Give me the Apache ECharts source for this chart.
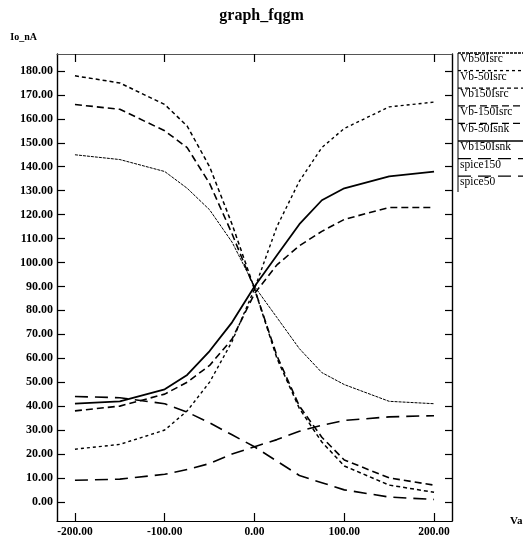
<!DOCTYPE html>
<html>
<head>
<meta charset="utf-8">
<script src="https://cdn.jsdelivr.net/npm/echarts@6/dist/echarts.min.js"></script>
<style>
html,body{margin:0;padding:0;background:#fff;}
#c{width:523px;height:541px;}
</style>
</head>
<body>
<div id="c"></div>
<script>
const xValues = [-200, -150, -100, -75, -50, -25, 0, 25, 50, 75, 100, 150, 200];
const seriesNames = ['Vb50Isrc', 'Vb-50Isrc', 'Vb150Isrc', 'Vb-150Isrc', 'Vb-50Isnk', 'Vb150Isnk', 'spice150', 'spice50'];
const vb50Isrc   = [145, 143, 138, 131, 122, 108.5, 90, 77, 64, 54, 49, 42, 41];
const vbm50Isrc  = [22, 24, 30, 38, 50, 67, 89, 115, 134, 148, 156, 165, 167];
const vb150Isrc  = [178, 175, 166, 157, 140, 116, 89, 60, 39, 25, 15, 7, 4];
const vbm150Isrc = [166, 164, 155, 148, 133, 112, 89, 61, 40, 27, 17.5, 10, 7];
const vbm50Isnk  = [38, 40, 45, 50, 57, 68, 87, 99, 107, 113, 118, 123, 123];
const vb150Isnk  = [41, 42, 47, 53, 63, 75, 90, 103, 116, 126, 131, 136, 138];
const spice150   = [44, 43.5, 41, 37.5, 33, 28, 23, 17, 11, 8, 5, 2, 1];
const spice50    = [9, 9.5, 11.5, 13.5, 16, 20, 23, 26, 29.5, 32, 34, 35.5, 36];
const yTicks = [0, 10, 20, 30, 40, 50, 60, 70, 80, 90, 100, 110, 120, 130, 140, 150, 160, 170, 180];
const xTicks = [-200, -100, 0, 100, 200];

const seriesValues = [vb50Isrc, vbm50Isrc, vb150Isrc, vbm150Isrc, vbm50Isnk, vb150Isnk, spice150, spice50];
const styles = [
  {w: 1, d: [3, 1]},
  {w: 1.4, d: [3, 3]},
  {w: 1.5, d: [4, 3]},
  {w: 1.6, d: [7, 4]},
  {w: 1.6, d: [7, 4]},
  {w: 1.8, d: 'solid'},
  {w: 1.6, d: [13, 7]},
  {w: 1.6, d: [13, 7]}
];

const font = '"Liberation Serif", "DejaVu Serif", serif';
const chart = echarts.init(document.getElementById('c'), null, {renderer: 'canvas'});

const series = seriesValues.map((vals, k) => ({
  name: seriesNames[k],
  type: 'line',
  xAxisIndex: 0,
  yAxisIndex: 0,
  data: xValues.map((x, i) => [x, vals[i]]),
  symbol: 'none',
  silent: true,
  animation: false,
  lineStyle: {color: '#000', width: styles[k].w, type: styles[k].d}
}));

const legendGraphics = [];
legendGraphics.push({type: 'line', shape: {x1: 458, y1: 53, x2: 458, y2: 192}, style: {stroke: '#000', lineWidth: 1}});
seriesNames.forEach((n, k) => {
  const ty = 59 + k * 17.6;
  legendGraphics.push({type: 'line', shape: {x1: 458, y1: ty - 6, x2: 523, y2: ty - 6},
    style: {stroke: '#000', lineWidth: 1.3, lineDash: styles[k].d === 'solid' ? null : styles[k].d}});
  legendGraphics.push({type: 'text', x: 460, y: ty, style: {text: n, font: '11.5px ' + font, fill: '#000', textVerticalAlign: 'middle', verticalAlign: 'middle'}});
});

const fmt = v => v.toFixed(2);

chart.setOption({
  backgroundColor: '#fff',
  animation: false,
  title: {text: 'graph_fqgm', left: 'center', top: 3,
    textStyle: {fontFamily: font, fontSize: 16, fontWeight: 'bold', color: '#000'}},
  grid: {left: 57, right: 71, top: 54, bottom: 20, outerBoundsMode: 'none', containLabel: false, show: false},
  xAxis: [{
    type: 'value', position: 'bottom', min: -220, max: 220,
    name: 'Va', nameLocation: 'end', nameGap: 58,
    nameTextStyle: {fontFamily: font, fontSize: 11, fontWeight: 'bold', color: '#000', verticalAlign: 'middle'},
    axisLine: {show: true, onZero: false, lineStyle: {color: '#000', width: 1.2}},
    axisTick: {show: true, inside: true, length: 8, customValues: xTicks, lineStyle: {color: '#000', width: 1.2}},
    axisLabel: {show: true, customValues: xTicks, formatter: fmt, margin: 5,
      fontFamily: font, fontSize: 11.5, fontWeight: 'bold', color: '#000'},
    splitLine: {show: false}
  }, {
    type: 'value', position: 'top', min: -220, max: 220,
    axisLine: {show: true, onZero: false, lineStyle: {color: '#555', width: 1}},
    axisTick: {show: true, inside: true, length: 8, customValues: xTicks, lineStyle: {color: '#000', width: 1.2}},
    axisLabel: {show: false},
    splitLine: {show: false}
  }],
  yAxis: [{
    type: 'value', position: 'left', min: -8, max: 187.1,
    name: 'Io_nA', nameLocation: 'end', nameGap: 12,
    nameTextStyle: {fontFamily: font, fontSize: 10, fontWeight: 'bold', color: '#000', align: 'right', padding: [0, 20, 0, 0]},
    axisLine: {show: true, onZero: false, lineStyle: {color: '#000', width: 1.4}},
    axisTick: {show: true, inside: true, length: 8, customValues: yTicks, lineStyle: {color: '#000', width: 1.2}},
    axisLabel: {show: true, customValues: yTicks, formatter: fmt, margin: 4,
      fontFamily: font, fontSize: 12, fontWeight: 'bold', color: '#000'},
    splitLine: {show: false}
  }, {
    type: 'value', position: 'right', min: -8, max: 187.1,
    axisLine: {show: true, onZero: false, lineStyle: {color: '#000', width: 1.4}},
    axisTick: {show: true, inside: true, length: 7, customValues: yTicks, lineStyle: {color: '#000', width: 1.2}},
    axisLabel: {show: false},
    splitLine: {show: false}
  }],
  legend: {show: false},
  tooltip: {show: false},
  graphic: legendGraphics,
  series: series
});
</script>
</body>
</html>
